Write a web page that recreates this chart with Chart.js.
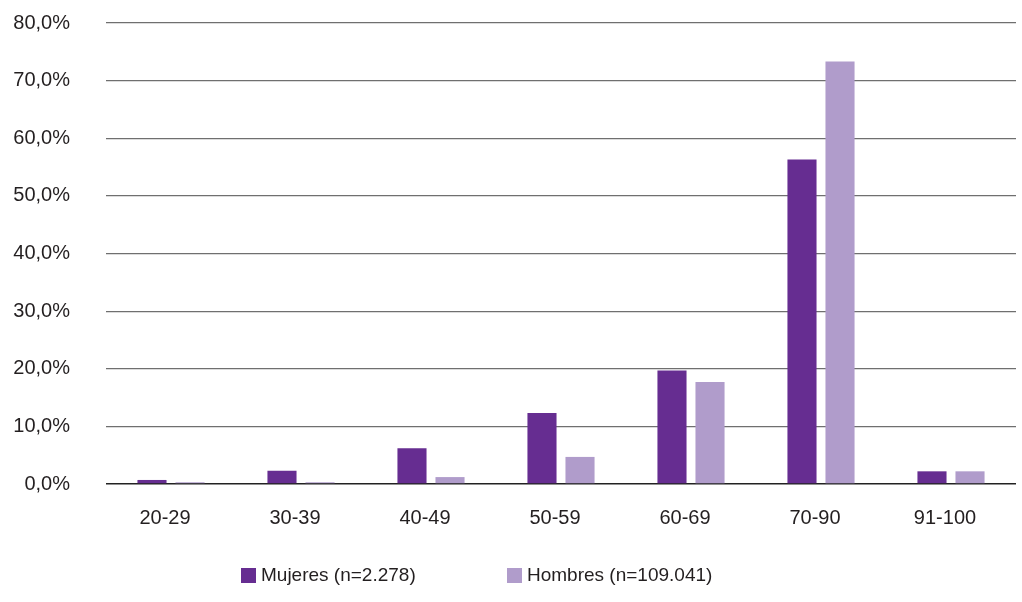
<!DOCTYPE html>
<html>
<head>
<meta charset="utf-8">
<script src="https://cdn.jsdelivr.net/npm/chart.js@4/dist/chart.umd.min.js"></script>
<style>
  html, body { margin: 0; padding: 0; background: #ffffff; }
  #wrap { position: relative; width: 1022px; height: 602px; }
  #chart { position: absolute; left: 0; top: 0; }
  .leg { position: absolute; top: 564px; display: flex; align-items: center;
         font-family: "Liberation Sans", Arial, Helvetica, sans-serif; font-size: 19px; color: #231f20; white-space: nowrap; }
  .leg .box { width: 15px; height: 15px; margin-right: 5px; }
</style>
</head>
<body>
<div id="wrap">
  <canvas id="chart" width="1022" height="602"></canvas>
  <div class="leg" style="left:241px"><span class="box" style="background:#662d91"></span><span>Mujeres (n=2.278)</span></div>
  <div class="leg" style="left:507px"><span class="box" style="background:#b09ccb"></span><span>Hombres (n=109.041)</span></div>
</div>
<script>
// Age groups (years)
const categories = ['20-29', '30-39', '40-49', '50-59', '60-69', '70-90', '91-100'];
// Share of each sex in each age group (%)
const mujeres = [0.7, 2.3, 6.2, 12.3, 19.7, 56.3, 2.2];
const hombres = [0.3, 0.3, 1.2, 4.7, 17.7, 73.3, 2.2];
const seriesNames = ['Mujeres (n=2.278)', 'Hombres (n=109.041)'];
const yTicks = [0, 10, 20, 30, 40, 50, 60, 70, 80];

const FONT = '"Liberation Sans", Arial, Helvetica, sans-serif';
const TEXT = '#231f20';

new Chart(document.getElementById('chart'), {
  type: 'bar',
  data: {
    labels: categories,
    datasets: [
      { label: seriesNames[0], data: mujeres, backgroundColor: '#662d91' },
      { label: seriesNames[1], data: hombres, backgroundColor: '#b09ccb' }
    ]
  },
  options: {
    responsive: false,
    animation: false,
    devicePixelRatio: 1,
    layout: { padding: { left: 0, right: 6, top: 23, bottom: 58 } },
    datasets: { bar: { categoryPercentage: 0.585, barPercentage: 0.765 } },
    plugins: {
      legend: { display: false },
      tooltip: { enabled: false }
    },
    scales: {
      x: {
        grid: { display: false, drawTicks: false },
        border: { display: false },
        ticks: { color: TEXT, font: { family: FONT, size: 20 }, padding: 22, maxRotation: 0, labelOffset: -6 },
        afterFit: s => { s.height = 60; }
      },
      y: {
        min: 0, max: 80,
        afterBuildTicks: s => { s.ticks = yTicks.map(v => ({ value: v })); },
        // fixed axis width; the layout padding alone sets the plot top
        afterFit: s => { s.width = 106; s.paddingTop = 0; s.paddingBottom = 0; },
        grid: {
          drawTicks: false,
          color: ctx => ctx.tick && ctx.tick.value === 0 ? '#222222' : '#6f6f6f',
          lineWidth: ctx => ctx.tick && ctx.tick.value === 0 ? 1.6 : 1.2
        },
        border: { display: false },
        ticks: {
          color: TEXT, font: { family: FONT, size: 20 }, padding: 36,
          callback: v => v.toFixed(1).replace('.', ',') + '%'
        }
      }
    }
  }
});
</script>
</body>
</html>
